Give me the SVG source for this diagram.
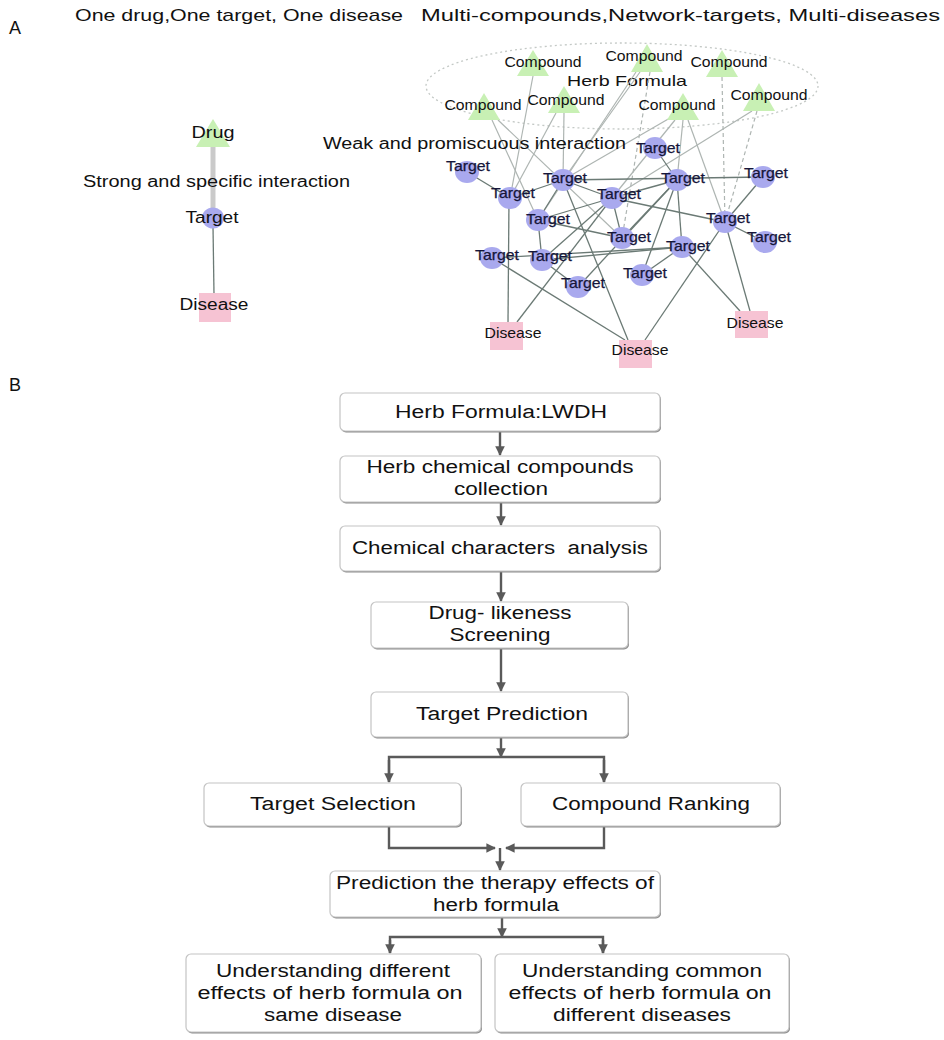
<svg xmlns="http://www.w3.org/2000/svg" width="944" height="1040" viewBox="0 0 944 1040">
<style>
text{font-family:"Liberation Sans",Arial,sans-serif;fill:#111;}
.t18{font-size:18px;}
.t17{font-size:17px;}
.t16{font-size:16px;}
.t15{font-size:15px;}
.t14{font-size:14px;}
.tl{font-size:14.5px;fill:#16163a;stroke:#16163a;stroke-width:0.25;}
.mid{text-anchor:middle;}
.le{stroke:#aeb5b2;stroke-width:1.2;fill:none;}
.ld{stroke:#aeb5b2;stroke-width:1.2;fill:none;stroke-dasharray:4 3;}
.de{stroke:#6b7a75;stroke-width:1.3;fill:none;}
.tg{fill:#a9a9ee;}
.cp{fill:#c8f0b4;}
.ds{fill:#f6c3d3;}
.box{fill:#fff;stroke:#c4c4c4;stroke-width:1.2;}
.sh{fill:#8c8c8c;}
.ar{stroke:#5a5a5a;stroke-width:2.4;fill:none;}
.arm{stroke:#5a5a5a;stroke-width:2.4;fill:none;marker-end:url(#ah);}
</style>
<defs>
<marker id="ah" viewBox="0 0 10 10" refX="9" refY="5" markerWidth="4" markerHeight="4" markerUnits="strokeWidth" orient="auto">
<path d="M0,0 L10,5 L0,10 z" fill="#5a5a5a"/>
</marker>
</defs>
<rect width="944" height="1040" fill="#fff"/>

<g id="labels-top">
<text class="t18" x="9" y="34">A</text>
<text class="t17" x="75" y="21" textLength="328" lengthAdjust="spacingAndGlyphs">One drug,One target, One disease</text>
<text class="t17" x="421" y="21" textLength="519" lengthAdjust="spacingAndGlyphs">Multi-compounds,Network-targets, Multi-diseases</text>
<text class="t18" x="9" y="391">B</text>
</g>

<!-- Left simple network -->
<g id="connectors-left">
<line x1="213" y1="146" x2="213" y2="211" stroke="#cacaca" stroke-width="5"/>
<line x1="213" y1="226" x2="214" y2="294" class="de"/>
</g>
<g id="drug">
<polygon class="cp" points="213,119 230,147 196,147"/>
<text class="t16 mid" x="213" y="138" textLength="43" lengthAdjust="spacingAndGlyphs">Drug</text>
</g>
<g id="strong-label">
<text class="t16" x="83" y="187" textLength="267" lengthAdjust="spacingAndGlyphs">Strong and specific interaction</text>
</g>
<g id="target-left">
<ellipse class="tg" cx="213" cy="218" rx="11" ry="10.5"/>
<text class="t16 mid" x="212" y="223" textLength="53" lengthAdjust="spacingAndGlyphs">Target</text>
</g>
<g id="disease-left">
<rect class="ds" x="199" y="293" width="32" height="29"/>
<text class="t16 mid" x="214" y="310" textLength="69" lengthAdjust="spacingAndGlyphs">Disease</text>
</g>

<!-- Right network -->
<g id="herb-formula">
<ellipse cx="622" cy="86" rx="196" ry="43" fill="none" stroke="#c4c9c6" stroke-width="1.3" stroke-dasharray="2 3"/>
<text class="t15 mid" x="627" y="86" textLength="120" lengthAdjust="spacingAndGlyphs">Herb Formula</text>
</g>

<g id="connectors-network">
<!-- compound edges -->
<line class="le" x1="533" y1="76" x2="510" y2="198"/>
<line class="le" x1="492" y1="120" x2="538" y2="220"/>
<line class="le" x1="498" y1="120" x2="622" y2="238"/>
<line class="le" x1="564" y1="113" x2="563" y2="180"/>
<line class="le" x1="556" y1="113" x2="510" y2="198"/>
<line class="le" x1="640" y1="72" x2="563" y2="180"/>
<line class="le" x1="636" y1="72" x2="538" y2="220"/>
<line class="ld" x1="650" y1="72" x2="622" y2="238"/>
<line class="le" x1="675" y1="120" x2="612" y2="198"/>
<line class="le" x1="670" y1="118" x2="563" y2="180"/>
<line class="le" x1="688" y1="120" x2="725" y2="222"/>
<line class="le" x1="683" y1="120" x2="677" y2="180"/>
<line class="ld" x1="722" y1="77" x2="725" y2="222"/>
<line class="le" x1="752" y1="111" x2="612" y2="198"/>
<line class="ld" x1="757" y1="111" x2="725" y2="222"/>
<!-- target edges -->
<line class="de" x1="467" y1="172" x2="510" y2="198"/>
<line class="de" x1="510" y1="198" x2="563" y2="180"/>
<line class="de" x1="563" y1="180" x2="612" y2="198"/>
<line class="de" x1="563" y1="180" x2="763" y2="177"/>
<line class="de" x1="563" y1="180" x2="538" y2="220"/>
<line class="de" x1="563" y1="180" x2="628" y2="340"/>
<line class="de" x1="612" y1="198" x2="677" y2="180"/>
<line class="de" x1="612" y1="198" x2="538" y2="220"/>
<line class="de" x1="612" y1="198" x2="622" y2="238"/>
<line class="de" x1="612" y1="198" x2="725" y2="222"/>
<line class="de" x1="612" y1="198" x2="542" y2="260"/>
<line class="de" x1="612" y1="198" x2="517" y2="322"/>
<line class="de" x1="655" y1="148" x2="677" y2="180"/>
<line class="de" x1="677" y1="180" x2="622" y2="238"/>
<line class="de" x1="677" y1="180" x2="682" y2="247"/>
<line class="de" x1="677" y1="180" x2="642" y2="275"/>
<line class="de" x1="677" y1="180" x2="578" y2="287"/>
<line class="de" x1="763" y1="177" x2="725" y2="222"/>
<line class="de" x1="538" y1="220" x2="622" y2="238"/>
<line class="de" x1="538" y1="220" x2="542" y2="260"/>
<line class="de" x1="725" y1="222" x2="765" y2="242"/>
<line class="de" x1="725" y1="222" x2="645" y2="340"/>
<line class="de" x1="725" y1="222" x2="750" y2="311"/>
<line class="de" x1="682" y1="247" x2="492" y2="258"/>
<line class="de" x1="682" y1="247" x2="542" y2="260"/>
<line class="de" x1="682" y1="247" x2="642" y2="275"/>
<line class="de" x1="682" y1="247" x2="740" y2="311"/>
<line class="de" x1="492" y1="258" x2="625" y2="340"/>
<line class="de" x1="542" y1="260" x2="578" y2="287"/>
<line class="de" x1="509" y1="198" x2="508" y2="322"/>
</g>

<g id="weak-label">
<text class="t16" x="323" y="149" textLength="303" lengthAdjust="spacingAndGlyphs">Weak and promiscuous interaction</text>
</g>

<g id="compounds">
<g id="c1"><polygon class="cp" points="533,50 549,76 517,76"/><text class="t14 mid" x="543" y="67" textLength="77" lengthAdjust="spacingAndGlyphs">Compound</text></g>
<g id="c2"><polygon class="cp" points="647,44 663,72 631,72"/><text class="t14 mid" x="644" y="61" textLength="77" lengthAdjust="spacingAndGlyphs">Compound</text></g>
<g id="c3"><polygon class="cp" points="722,50 738,77 706,77"/><text class="t14 mid" x="729" y="67" textLength="77" lengthAdjust="spacingAndGlyphs">Compound</text></g>
<g id="c4"><polygon class="cp" points="484,93 500,120 468,120"/><text class="t14 mid" x="483" y="110" textLength="77" lengthAdjust="spacingAndGlyphs">Compound</text></g>
<g id="c5"><polygon class="cp" points="564,86 580,113 548,113"/><text class="t14 mid" x="566" y="105" textLength="77" lengthAdjust="spacingAndGlyphs">Compound</text></g>
<g id="c6"><polygon class="cp" points="683,93 699,120 667,120"/><text class="t14 mid" x="677" y="110" textLength="77" lengthAdjust="spacingAndGlyphs">Compound</text></g>
<g id="c7"><polygon class="cp" points="759,83 775,111 743,111"/><text class="t14 mid" x="769" y="100" textLength="77" lengthAdjust="spacingAndGlyphs">Compound</text></g>
</g>

<g id="targets">
<g id="t1"><ellipse class="tg" cx="467" cy="172" rx="12" ry="11"/><text class="tl mid" x="468" y="171" textLength="44" lengthAdjust="spacingAndGlyphs">Target</text></g>
<g id="t2"><ellipse class="tg" cx="510" cy="198" rx="12" ry="11"/><text class="tl mid" x="513" y="198" textLength="44" lengthAdjust="spacingAndGlyphs">Target</text></g>
<g id="t3"><ellipse class="tg" cx="563" cy="180" rx="12" ry="11"/><text class="tl mid" x="565" y="183" textLength="44" lengthAdjust="spacingAndGlyphs">Target</text></g>
<g id="t4"><ellipse class="tg" cx="612" cy="198" rx="12" ry="11"/><text class="tl mid" x="619" y="199" textLength="44" lengthAdjust="spacingAndGlyphs">Target</text></g>
<g id="t5"><ellipse class="tg" cx="655" cy="148" rx="12" ry="11"/><text class="tl mid" x="658" y="153" textLength="44" lengthAdjust="spacingAndGlyphs">Target</text></g>
<g id="t6"><ellipse class="tg" cx="677" cy="180" rx="12" ry="11"/><text class="tl mid" x="683" y="183" textLength="44" lengthAdjust="spacingAndGlyphs">Target</text></g>
<g id="t7"><ellipse class="tg" cx="763" cy="177" rx="12" ry="11"/><text class="tl mid" x="766" y="178" textLength="44" lengthAdjust="spacingAndGlyphs">Target</text></g>
<g id="t8"><ellipse class="tg" cx="538" cy="220" rx="12" ry="11"/><text class="tl mid" x="548" y="224" textLength="44" lengthAdjust="spacingAndGlyphs">Target</text></g>
<g id="t9"><ellipse class="tg" cx="622" cy="238" rx="12" ry="11"/><text class="tl mid" x="629" y="242" textLength="44" lengthAdjust="spacingAndGlyphs">Target</text></g>
<g id="t10"><ellipse class="tg" cx="725" cy="222" rx="12" ry="11"/><text class="tl mid" x="728" y="223" textLength="44" lengthAdjust="spacingAndGlyphs">Target</text></g>
<g id="t11"><ellipse class="tg" cx="765" cy="242" rx="12" ry="11"/><text class="tl mid" x="769" y="242" textLength="44" lengthAdjust="spacingAndGlyphs">Target</text></g>
<g id="t12"><ellipse class="tg" cx="682" cy="247" rx="12" ry="11"/><text class="tl mid" x="688" y="251" textLength="44" lengthAdjust="spacingAndGlyphs">Target</text></g>
<g id="t13"><ellipse class="tg" cx="492" cy="258" rx="12" ry="11"/><text class="tl mid" x="497" y="260" textLength="44" lengthAdjust="spacingAndGlyphs">Target</text></g>
<g id="t14"><ellipse class="tg" cx="542" cy="260" rx="12" ry="11"/><text class="tl mid" x="550" y="261" textLength="44" lengthAdjust="spacingAndGlyphs">Target</text></g>
<g id="t15"><ellipse class="tg" cx="578" cy="287" rx="12" ry="11"/><text class="tl mid" x="583" y="288" textLength="44" lengthAdjust="spacingAndGlyphs">Target</text></g>
<g id="t16"><ellipse class="tg" cx="642" cy="275" rx="12" ry="11"/><text class="tl mid" x="645" y="278" textLength="44" lengthAdjust="spacingAndGlyphs">Target</text></g>
</g>

<g id="diseases">
<g id="d1"><rect class="ds" x="490" y="322" width="33" height="28"/><text class="t15 mid" x="513" y="338" textLength="57" lengthAdjust="spacingAndGlyphs">Disease</text></g>
<g id="d2"><rect class="ds" x="619" y="340" width="33" height="28"/><text class="t15 mid" x="640" y="355" textLength="57" lengthAdjust="spacingAndGlyphs">Disease</text></g>
<g id="d3"><rect class="ds" x="735" y="311" width="33" height="27"/><text class="t15 mid" x="755" y="328" textLength="57" lengthAdjust="spacingAndGlyphs">Disease</text></g>
</g>

<!-- Flowchart -->
<g id="connectors-flow">
<line class="arm" x1="500" y1="431" x2="500" y2="455"/>
<line class="arm" x1="501" y1="502" x2="501" y2="525"/>
<line class="arm" x1="501" y1="571" x2="501" y2="601"/>
<line class="arm" x1="501" y1="648" x2="501" y2="691"/>
<line class="arm" x1="501" y1="737" x2="501" y2="757"/>
<polyline class="ar" points="389,782 389,757 604,757 604,782"/>
<line class="arm" x1="389" y1="760" x2="389" y2="782"/>
<line class="arm" x1="604" y1="760" x2="604" y2="782"/>
<polyline class="arm" points="389,826 389,848 495,848"/>
<polyline class="arm" points="604,826 604,848 506,848"/>
<line class="arm" x1="500" y1="848" x2="500" y2="870"/>
<line class="arm" x1="502" y1="917" x2="502" y2="937"/>
<polyline class="ar" points="390,953 390,937 603,937 603,953"/>
<line class="arm" x1="390" y1="940" x2="390" y2="953"/>
<line class="arm" x1="603" y1="940" x2="603" y2="953"/>
</g>

<g id="box1">
<rect class="sh" x="341" y="394.5" width="320" height="38" rx="5"/>
<rect class="box" x="340" y="393" width="320" height="38" rx="5"/>
<text class="t18 mid" x="501" y="418" textLength="212" lengthAdjust="spacingAndGlyphs">Herb Formula:LWDH</text>
</g>
<g id="box2">
<rect class="sh" x="341" y="457.5" width="320" height="46" rx="5"/>
<rect class="box" x="340" y="456" width="320" height="46" rx="5"/>
<text class="t18 mid" x="500" y="473" textLength="267" lengthAdjust="spacingAndGlyphs">Herb chemical compounds</text>
<text class="t18 mid" x="501" y="495" textLength="94" lengthAdjust="spacingAndGlyphs">collection</text>
</g>
<g id="box3">
<rect class="sh" x="341" y="527.5" width="320" height="45" rx="5"/>
<rect class="box" x="340" y="526" width="320" height="45" rx="5"/>
<text class="t18 mid" x="500" y="554" textLength="296" lengthAdjust="spacingAndGlyphs" xml:space="preserve">Chemical characters  analysis</text>
</g>
<g id="box4">
<rect class="sh" x="372" y="603.5" width="257" height="46" rx="5"/>
<rect class="box" x="371" y="602" width="257" height="46" rx="5"/>
<text class="t18 mid" x="500" y="619" textLength="143" lengthAdjust="spacingAndGlyphs">Drug- likeness</text>
<text class="t18 mid" x="500" y="641" textLength="101" lengthAdjust="spacingAndGlyphs">Screening</text>
</g>
<g id="box5">
<rect class="sh" x="372" y="693.5" width="257" height="45" rx="5"/>
<rect class="box" x="371" y="692" width="257" height="45" rx="5"/>
<text class="t18 mid" x="502" y="720" textLength="172" lengthAdjust="spacingAndGlyphs">Target Prediction</text>
</g>
<g id="box6">
<rect class="sh" x="205" y="784.5" width="257" height="43" rx="5"/>
<rect class="box" x="204" y="783" width="257" height="43" rx="5"/>
<text class="t18 mid" x="333" y="810" textLength="166" lengthAdjust="spacingAndGlyphs">Target Selection</text>
</g>
<g id="box7">
<rect class="sh" x="522" y="784.5" width="259" height="43" rx="5"/>
<rect class="box" x="521" y="783" width="259" height="43" rx="5"/>
<text class="t18 mid" x="651" y="810" textLength="198" lengthAdjust="spacingAndGlyphs">Compound Ranking</text>
</g>
<g id="box8">
<rect class="sh" x="331" y="872.5" width="330" height="46" rx="5"/>
<rect class="box" x="330" y="871" width="330" height="46" rx="5"/>
<text class="t18 mid" x="495" y="889" textLength="318" lengthAdjust="spacingAndGlyphs">Prediction the therapy effects of</text>
<text class="t18 mid" x="496" y="911" textLength="126" lengthAdjust="spacingAndGlyphs">herb formula</text>
</g>
<g id="box9">
<rect class="sh" x="187" y="955.5" width="295" height="78" rx="5"/>
<rect class="box" x="186" y="954" width="295" height="78" rx="5"/>
<text class="t18 mid" x="333" y="977" textLength="234" lengthAdjust="spacingAndGlyphs">Understanding different</text>
<text class="t18 mid" x="330" y="999" textLength="265" lengthAdjust="spacingAndGlyphs">effects of herb formula on</text>
<text class="t18 mid" x="333" y="1021" textLength="138" lengthAdjust="spacingAndGlyphs">same disease</text>
</g>
<g id="box10">
<rect class="sh" x="496" y="955.5" width="294" height="78" rx="5"/>
<rect class="box" x="495" y="954" width="294" height="78" rx="5"/>
<text class="t18 mid" x="642" y="977" textLength="240" lengthAdjust="spacingAndGlyphs">Understanding common</text>
<text class="t18 mid" x="640" y="999" textLength="263" lengthAdjust="spacingAndGlyphs">effects of herb formula on</text>
<text class="t18 mid" x="642" y="1021" textLength="178" lengthAdjust="spacingAndGlyphs">different diseases</text>
</g>
</svg>
